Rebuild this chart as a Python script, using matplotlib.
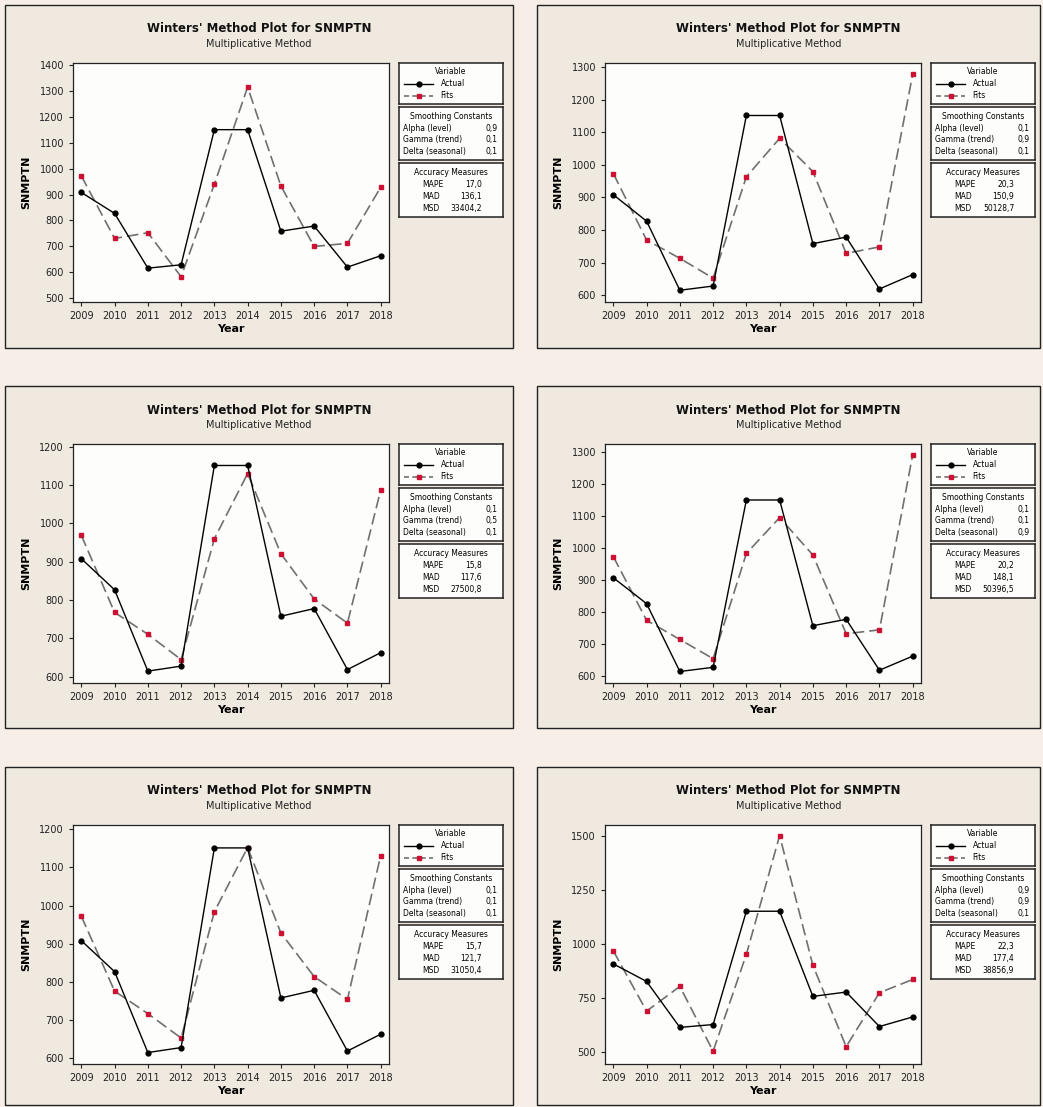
import numpy as np
import matplotlib.pyplot as plt
from matplotlib.patches import Rectangle
from matplotlib.lines import Line2D

years = [2009, 2010, 2011, 2012, 2013, 2014, 2015, 2016, 2017, 2018]
actual = [908, 827, 615, 628, 1151, 1151, 758, 778, 619, 663]

# fitted values, one list per panel (row by row, left to right)
fits_a = [972, 730, 752, 582, 940, 1316, 933, 699, 711, 928]
fits_b = [973, 769, 713, 652, 963, 1081, 979, 728, 748, 1277]
fits_c = [969, 768, 711, 645, 960, 1130, 921, 803, 740, 1087]
fits_d = [974, 775, 715, 655, 984, 1096, 979, 733, 745, 1292]
fits_e = [972, 776, 717, 653, 984, 1152, 928, 814, 754, 1131]
fits_f = [968, 690, 804, 505, 952, 1500, 901, 526, 775, 836]
all_fits = [fits_a, fits_b, fits_c, fits_d, fits_e, fits_f]

alpha = ["0,9", "0,1", "0,1", "0,1", "0,1", "0,9"]
gamma = ["0,1", "0,9", "0,5", "0,1", "0,1", "0,9"]
delta = ["0,1", "0,1", "0,1", "0,9", "0,1", "0,1"]
mape = ["17,0", "20,3", "15,8", "20,2", "15,7", "22,3"]
mad = ["136,1", "150,9", "117,6", "148,1", "121,7", "177,4"]
msd = ["33404,2", "50128,7", "27500,8", "50396,5", "31050,4", "38856,9"]

y_lims = [(484, 1409), (579, 1312), (584, 1207), (579, 1326), (585, 1211), (446, 1549)]
y_ticks = [np.arange(500, 1401, 100), np.arange(600, 1301, 100), np.arange(600, 1201, 100),
           np.arange(600, 1301, 100), np.arange(600, 1201, 100), np.arange(500, 1501, 250)]

W, H = 1043, 1107
fig = plt.figure(figsize=(W / 100, H / 100), dpi=100)
fig.patch.set_facecolor("#f7eee7")

def frac(x, y, w, h):
    # pixel box (top-left origin) -> figure fraction
    return [x / W, 1 - (y + h) / H, w / W, h / H]

col_x = [5, 537]
col_w = [508, 503]
row_y = [5, 386, 767]
row_h = [343, 342, 338]

fit_line = "#707070"
fit_red = "#cc1133"

for i in range(6):
    r, c = divmod(i, 2)
    px, py, pw, ph = col_x[c], row_y[r], col_w[c], row_h[r]
    fig.patches.append(Rectangle((px / W, 1 - (py + ph) / H), pw / W, ph / H,
                                 transform=fig.transFigure, facecolor="#efe9df",
                                 edgecolor="#222222", linewidth=1.0, zorder=-5))
    fig.text((px + pw / 2) / W, 1 - (py + 24) / H, "Winters' Method Plot for SNMPTN",
             ha="center", va="center", fontsize=8.5, fontweight="bold", color="#111111")
    fig.text((px + pw / 2) / W, 1 - (py + 39) / H, "Multiplicative Method",
             ha="center", va="center", fontsize=7, color="#222222")

    ax = fig.add_axes(frac(px + 68, py + 58, 316, 239))
    ax.set_facecolor("#fdfdfb")
    ax.plot(years, actual, color="black", lw=1.0, marker="o", ms=3.5, zorder=3)
    ax.plot(years, all_fits[i], color=fit_line, lw=1.2, ls=(0, (7, 3)),
            marker="s", ms=3.5, mfc=fit_red, mec=fit_red, zorder=2)
    ax.set_xlim(2008.75, 2018.25)
    ax.set_ylim(*y_lims[i])
    ax.set_xticks(years)
    ax.set_yticks(y_ticks[i])
    ax.tick_params(labelsize=7, length=3, width=0.8, colors="#222222")
    for s in ax.spines.values():
        s.set_linewidth(0.9)
        s.set_color("#222222")
    ax.set_xlabel("Year", fontsize=8, fontweight="bold", labelpad=2)
    ax.set_ylabel("SNMPTN", fontsize=8, fontweight="bold", labelpad=6)

    # legend boxes at the right
    lx = px + 394
    boxes = [(58, 41), (102, 53), (158, 54)]
    bax = []
    for by, bh in boxes:
        b = fig.add_axes(frac(lx, py + by, 104, bh))
        b.set_xlim(0, 1)
        b.set_ylim(0, 1)
        b.set_xticks([])
        b.set_yticks([])
        b.set_facecolor("#fdfdfb")
        for s in b.spines.values():
            s.set_linewidth(1.1)
            s.set_color("#222222")
        bax.append(b)

    b = bax[0]
    b.text(0.5, 0.8, "Variable", ha="center", va="center", fontsize=5.5)
    b.add_line(Line2D([0.05, 0.33], [0.5, 0.5], color="black", lw=1.0))
    b.plot([0.19], [0.5], "o", color="black", ms=3.5)
    b.add_line(Line2D([0.05, 0.33], [0.2, 0.2], color=fit_line, lw=1.2, ls=(0, (3, 2))))
    b.plot([0.19], [0.2], "s", color=fit_red, ms=3.5)
    b.text(0.4, 0.5, "Actual", ha="left", va="center", fontsize=5.5)
    b.text(0.4, 0.2, "Fits", ha="left", va="center", fontsize=5.5)

    b = bax[1]
    b.text(0.5, 0.83, "Smoothing Constants", ha="center", va="center", fontsize=5.5)
    for k, (lab, val) in enumerate([("Alpha (level)", alpha[i]),
                                    ("Gamma (trend)", gamma[i]),
                                    ("Delta (seasonal)", delta[i])]):
        yy = 0.6 - k * 0.22
        b.text(0.04, yy, lab, ha="left", va="center", fontsize=5.5)
        b.text(0.95, yy, val, ha="right", va="center", fontsize=5.5)

    b = bax[2]
    b.text(0.5, 0.83, "Accuracy Measures", ha="center", va="center", fontsize=5.5)
    for k, (lab, val) in enumerate([("MAPE", mape[i]), ("MAD", mad[i]), ("MSD", msd[i])]):
        yy = 0.6 - k * 0.22
        b.text(0.22, yy, lab, ha="left", va="center", fontsize=5.5)
        b.text(0.8, yy, val, ha="right", va="center", fontsize=5.5)

fig.savefig("out.png", dpi=100, facecolor=fig.get_facecolor())
